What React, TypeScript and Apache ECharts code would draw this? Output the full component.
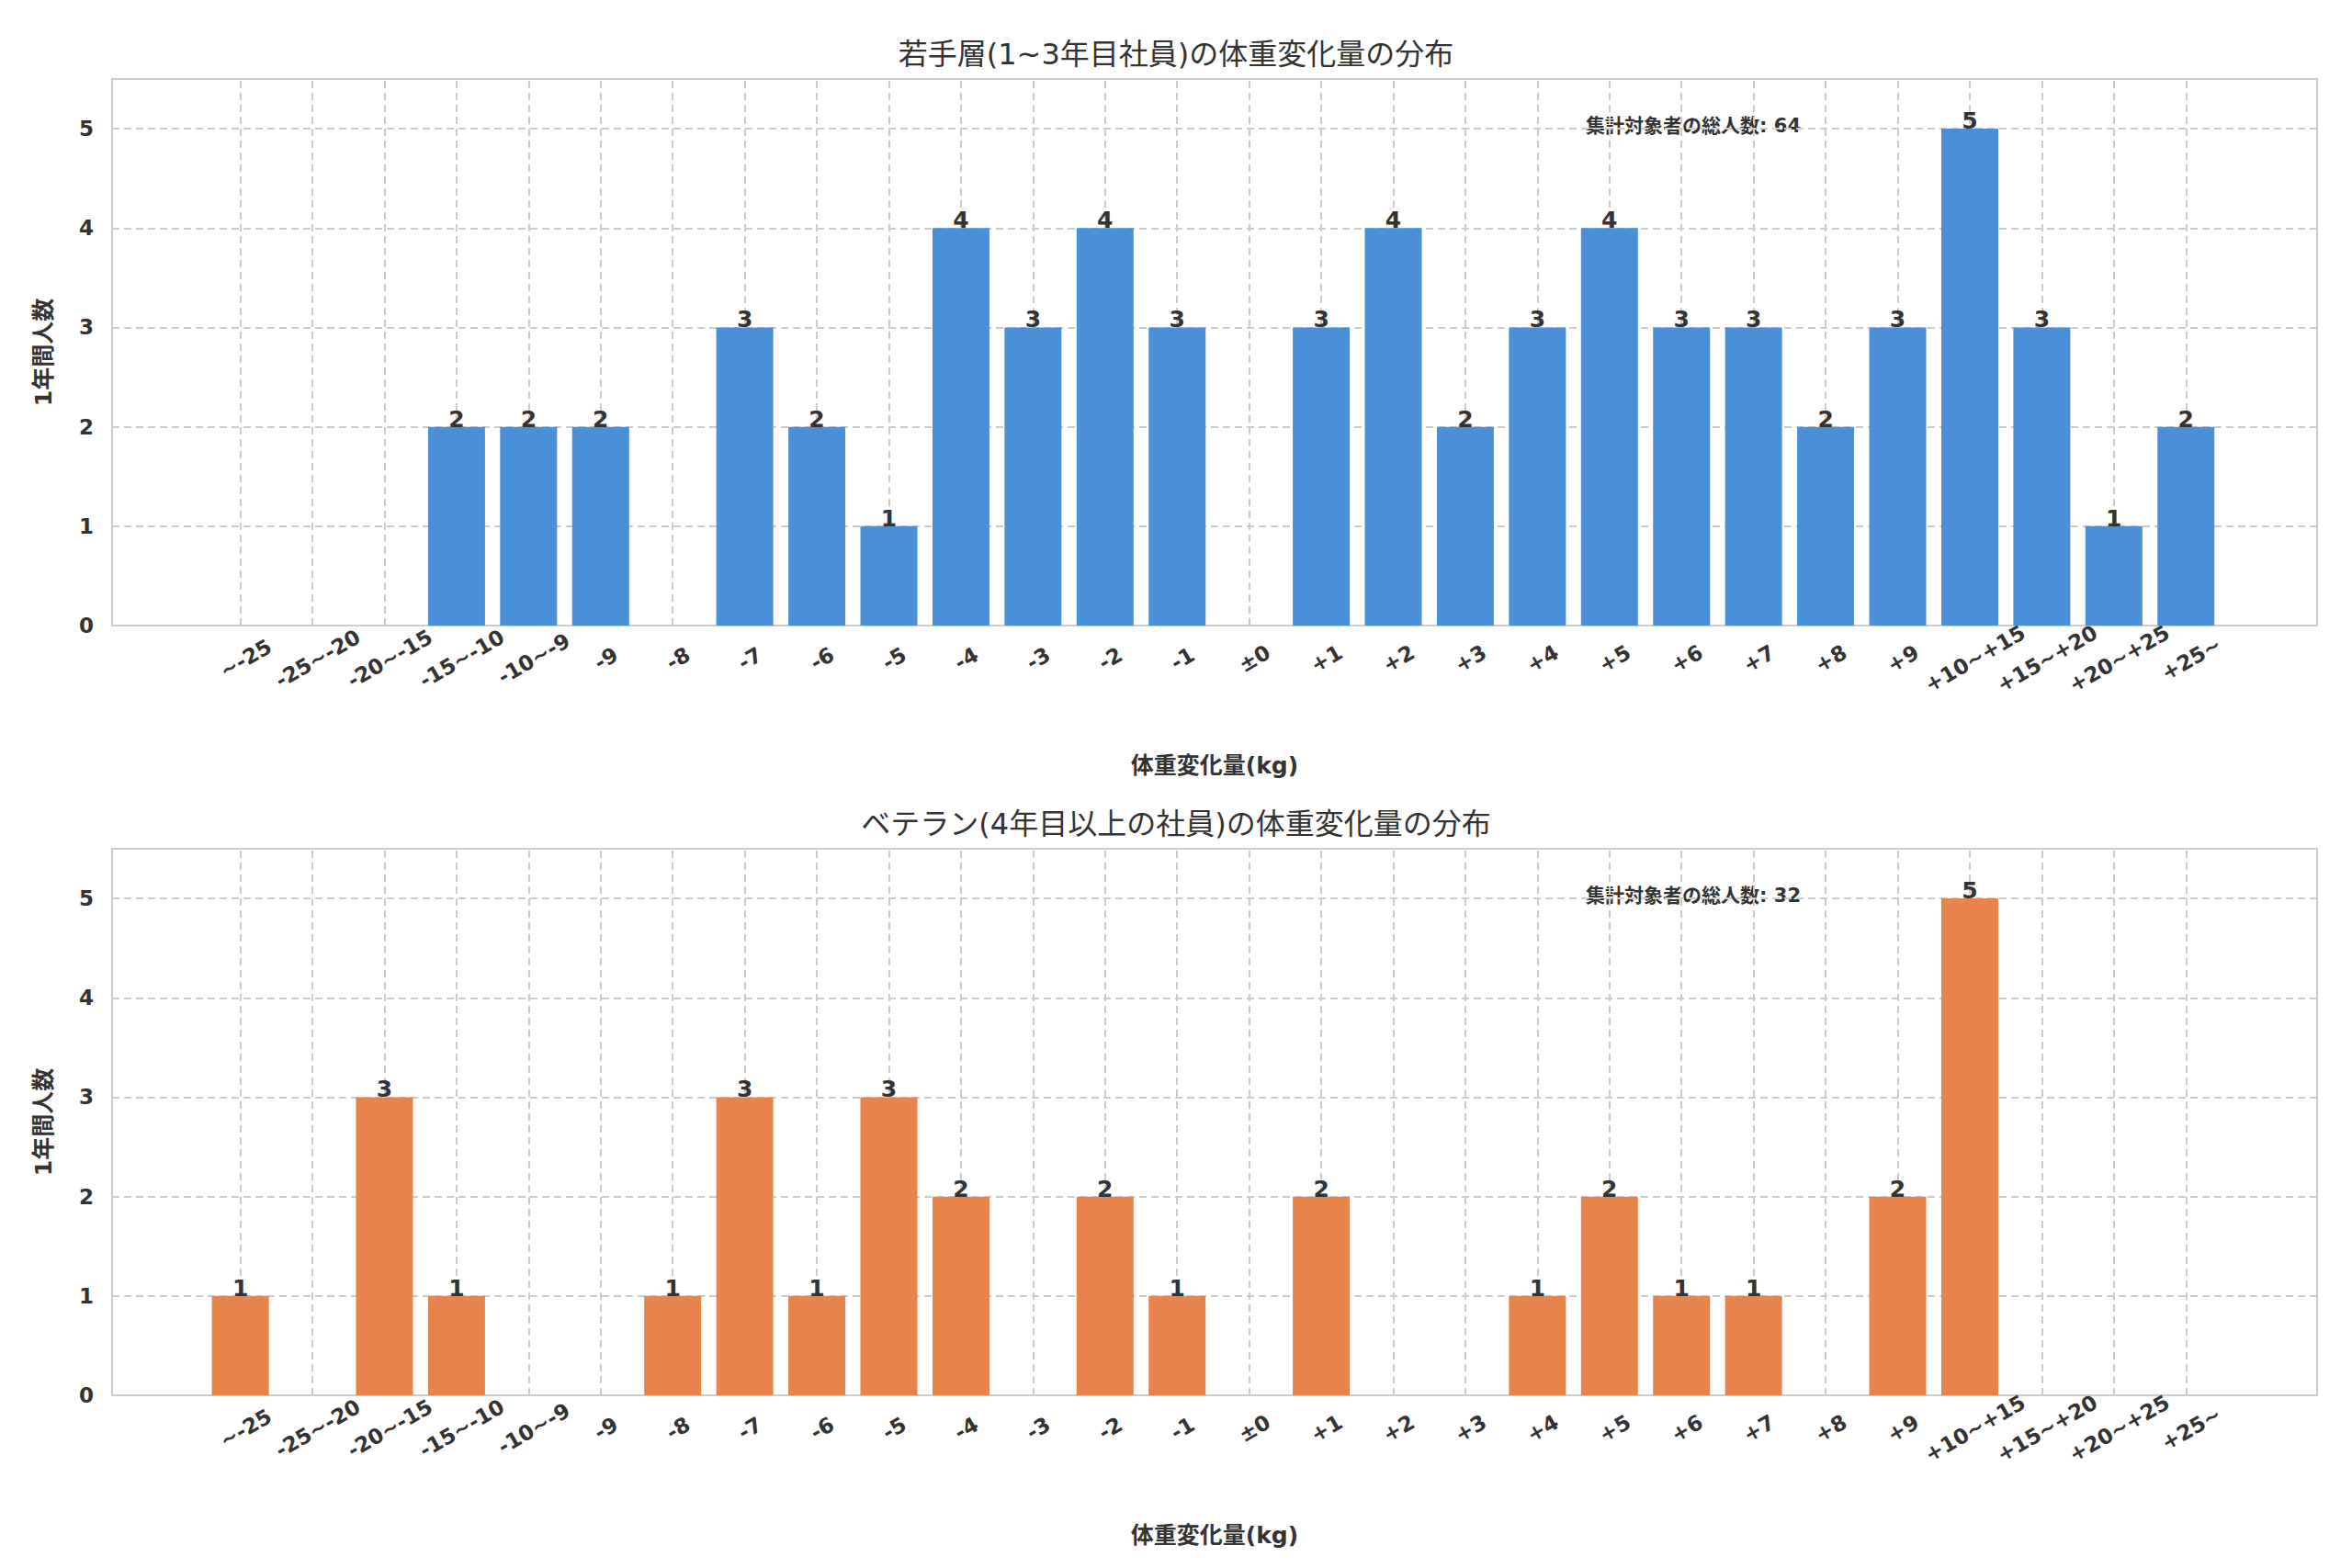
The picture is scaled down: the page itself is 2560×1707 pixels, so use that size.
import React, { useEffect, useRef } from "react";
import * as echarts from "echarts";

const categories = ["~-25","-25~-20","-20~-15","-15~-10","-10~-9","-9","-8","-7","-6","-5","-4","-3","-2","-1","±0","+1","+2","+3","+4","+5","+6","+7","+8","+9","+10~+15","+15~+20","+20~+25","+25~"];
const youngCounts = [0,0,0,2,2,2,0,3,2,1,4,3,4,3,0,3,4,2,3,4,3,3,2,3,5,3,1,2];
const seniorCounts = [1,0,3,1,0,0,1,3,1,3,2,0,2,1,0,2,0,0,1,2,1,1,0,2,5,0,0,0];
const yTicks = [0,1,2,3,4,5];
const titles = ["若手層(1~3年目社員)の体重変化量の分布", "ベテラン(4年目以上の社員)の体重変化量の分布"];
const totals = [64, 32];
const colors = ["#4a90d9", "#e8844b"];

const FONT = "DejaVu Sans, Noto Sans CJK JP, sans-serif";

export default function App() {
  const ref = useRef<HTMLDivElement>(null);
  useEffect(() => {
    const chart = echarts.init(ref.current!, null, { renderer: "svg" });
    const tops = [78, 916];
    const H = 595;
    const grids = tops.map((t) => ({ left: 114, right: 30, top: t, height: H, show: true, borderColor: "#cccccc", borderWidth: 2, backgroundColor: "#fff" }));
    const xAxes = tops.map((_, i) => ({
      type: "value", gridIndex: i, min: -1.78, max: 28.82,
      axisLine: { show: false }, axisTick: { show: false }, splitLine: { show: false },
      axisLabel: {
        customValues: categories.map((_, k) => k),
        formatter: (v: number) => categories[Math.round(v)] ?? "",
        rotate: 30, align: "center", verticalAlign: "top", margin: 26,
        fontSize: 23, fontWeight: "bold", color: "#333", fontFamily: FONT,
      },
      name: "体重変化量(kg)", nameLocation: "middle", nameGap: 140,
      nameTextStyle: { fontSize: 25, fontWeight: "bold", color: "#333", fontFamily: FONT },
    }));
    const yAxes = tops.map((_, i) => ({
      type: "value", gridIndex: i, min: 0, max: 5.5, interval: 1,
      axisLine: { show: false }, axisTick: { show: false },
      axisLabel: { formatter: (v: number) => (yTicks.includes(v) ? String(v) : ""), fontSize: 23, fontWeight: "bold", color: "#333", fontFamily: FONT, margin: 20 },
      splitLine: { lineStyle: { color: "#cccccc", type: [8, 5], width: 2 } },
      name: "1年間人数", nameLocation: "middle", nameGap: 62, nameRotate: 90,
      nameTextStyle: { fontSize: 25, fontWeight: "bold", color: "#333", fontFamily: FONT },
    }));
    const data = [youngCounts, seniorCounts];
    const series = data.map((arr, i) => ({
      type: "bar", xAxisIndex: i, yAxisIndex: i, barWidth: 62,
      itemStyle: { color: colors[i] },
      data: arr.map((v, k) => [k, v]).filter((d) => d[1] > 0),
      label: { show: true, position: "top", distance: -4, fontSize: 25, fontWeight: "bold", color: "#333", fontFamily: FONT, formatter: (p: any) => String(p.value[1]) },
      markLine: {
        silent: true, symbol: "none", label: { show: false },
        lineStyle: { color: "#cccccc", type: [8, 5], width: 2 },
        data: categories.map((_, k) => ({ xAxis: k })),
        z: 0,
      },
      z: 2,
    }));
    chart.setOption({
      animation: false,
      backgroundColor: "#fff",
      title: tops.map((t, i) => ({
        text: titles[i], left: "center", top: t - 48,
        textStyle: { fontSize: 32, fontWeight: "normal", color: "#333", fontFamily: FONT },
      })),
      grid: grids, xAxis: xAxes, yAxis: yAxes, series,
      graphic: tops.map((t, i) => ({
        type: "text", right: 2560 - 1968, top: t + 40,
        style: { text: "集計対象者の総人数: " + totals[i], fontSize: 21, fontWeight: "bold", fill: "#333", fontFamily: FONT },
      })),
    });
    return () => chart.dispose();
  }, []);
  return <div ref={ref} style={{ width: 2544, height: 1691 }} />;
}
